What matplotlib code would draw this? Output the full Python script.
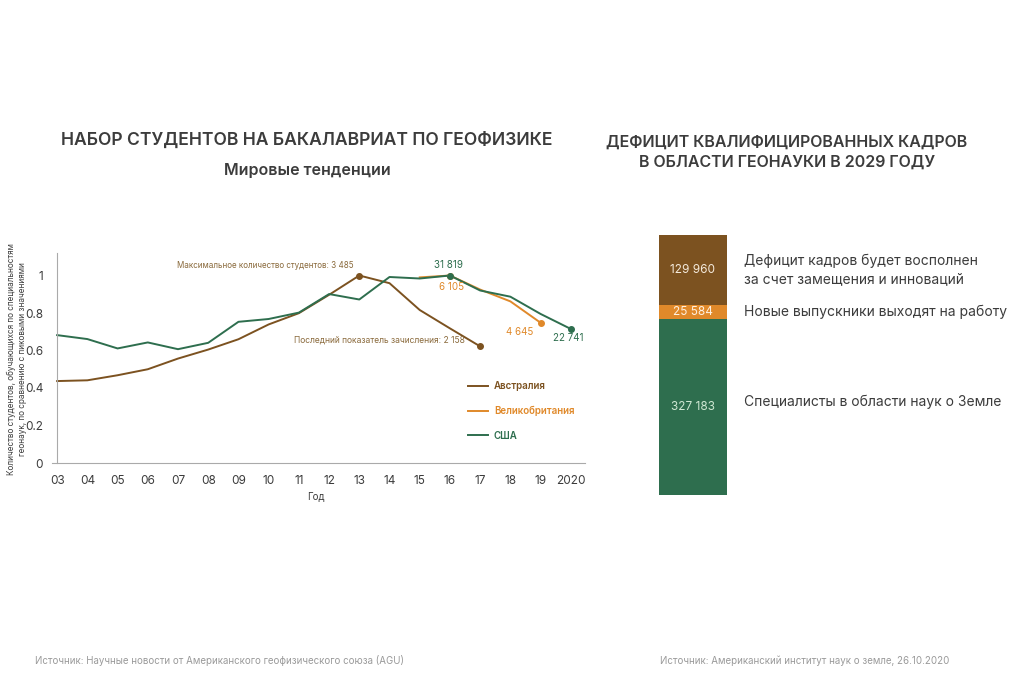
import matplotlib
matplotlib.use("Agg")
import matplotlib.pyplot as plt
import numpy as np

plt.rcParams['font.family'] = ['Inter', 'DejaVu Sans']

# ---- data ----
years = list(range(2003, 2021))
year_labels = ["03", "04", "05", "06", "07", "08", "09", "10", "11", "12",
               "13", "14", "15", "16", "17", "18", "19", "2020"]

aus_years = list(range(2003, 2018))
aus_vals = [0.437, 0.441, 0.468, 0.50, 0.557, 0.605, 0.66, 0.739, 0.799,
            0.897, 1.0, 0.959, 0.816, 0.718, 0.622]

uk_years = [2015, 2016, 2017, 2018, 2019]
uk_vals = [0.99, 1.0, 0.925, 0.862, 0.748]

usa_years = list(range(2003, 2021))
usa_vals = [0.682, 0.661, 0.611, 0.643, 0.607, 0.641, 0.753, 0.768, 0.802,
            0.901, 0.872, 0.992, 0.984, 1.0, 0.92, 0.887, 0.795, 0.715]

series_names = ["Австралия", "Великобритания", "США"]

bar_values = [327183, 25584, 129960]
bar_labels = ["327 183", "25 584", "129 960"]
bar_desc = ["Специалисты в области наук о Земле",
            "Новые выпускники выходят на работу",
            "Дефицит кадров будет восполнен\nза счет замещения и инноваций"]

# ---- colors ----
c_aus = "#7c5220"
c_uk = "#e0892a"
c_usa = "#2e6e4e"
c_text = "#3c3c3c"

W, H = 1024, 683
fig = plt.figure(figsize=(W / 100, H / 100), dpi=100)
fig.patch.set_facecolor("white")


def fx(px):
    return px / W


def fy(py):
    return 1 - py / H


# ---- line chart ----
ax = fig.add_axes([fx(52), fy(463), fx(585) - fx(52), fy(253) - fy(463)])
ax.plot(aus_years, aus_vals, color=c_aus, lw=1.4, label=series_names[0])
ax.plot(uk_years, uk_vals, color=c_uk, lw=1.4, label=series_names[1])
ax.plot(usa_years, usa_vals, color=c_usa, lw=1.4, label=series_names[2])

# markers at highlighted points
ax.plot([aus_years[10], aus_years[-1]], [aus_vals[10], aus_vals[-1]], 'o',
        color=c_aus, ms=4)
ax.plot([uk_years[1], uk_years[-1]], [uk_vals[1], uk_vals[-1]], 'o',
        color=c_uk, ms=4)
ax.plot([usa_years[13], usa_years[-1]], [usa_vals[13], usa_vals[-1]], 'o',
        color=c_usa, ms=4)

ax.set_xlim(2002.83, 2020.47)
ax.set_ylim(0, 1.12)
ax.spines["left"].set_position(("data", 2003))
ax.set_xticks(years)
ax.set_xticklabels(year_labels)
ax.set_yticks([0, 0.2, 0.4, 0.6, 0.8, 1.0])
ax.set_yticklabels(["0", "0.2", "0.4", "0.6", "0.8", "1"])
ax.tick_params(axis='both', length=0, labelsize=8.5, colors=c_text, pad=9)
ax.tick_params(axis='y', pad=10)
for s in ["top", "right"]:
    ax.spines[s].set_visible(False)
for s in ["left", "bottom"]:
    ax.spines[s].set_color("#aaaaaa")
    ax.spines[s].set_linewidth(0.8)
ax.set_xlabel("Год", fontsize=7, color=c_text, labelpad=2)
ax.xaxis.set_label_coords((316 - 52) / (585 - 52), -0.135)

ax.annotate("Максимальное количество студентов: 3 485",
            (aus_years[10], aus_vals[10]), xytext=(-4, 4),
            textcoords="offset points", ha="right", va="bottom",
            fontsize=5.8, color="#8a6a3c")
ax.annotate("Последний показатель зачисления: 2 158",
            (aus_years[-1], aus_vals[-1]), xytext=(-11, 1),
            textcoords="offset points", ha="right", va="bottom",
            fontsize=6.1, color="#8a6a3c")
ax.annotate("31 819", (usa_years[13], usa_vals[13]), xytext=(-1, 4),
            textcoords="offset points", ha="center", va="bottom",
            fontsize=7, color=c_usa)
ax.annotate("6 105", (uk_years[1], uk_vals[1]), xytext=(1, -5),
            textcoords="offset points", ha="center", va="top",
            fontsize=7, color=c_uk)
ax.annotate("4 645", (uk_years[-1], uk_vals[-1]), xytext=(-15, -3),
            textcoords="offset points", ha="center", va="top",
            fontsize=7, color=c_uk)
ax.annotate("22 741", (usa_years[-1], usa_vals[-1]), xytext=(-2, -3),
            textcoords="offset points", ha="center", va="top",
            fontsize=7, color=c_usa)

leg = ax.legend(loc="upper left", bbox_to_anchor=(0.765, 0.43), frameon=False,
                fontsize=7, handlelength=2.0, handletextpad=0.6,
                labelspacing=1.5, labelcolor=[c_aus, c_uk, c_usa])
for t in leg.get_texts():
    t.set_fontweight("semibold")

fig.text(0.007, fy(359),
         "Количество студентов, обучающихся по специальностям\n"
         "геонаук, по сравнению с пиковыми значениями",
         rotation=90, ha="left", va="center", fontsize=5.9, color=c_text,
         multialignment="center")

# ---- titles ----
fig.text(fx(307), fy(140), "НАБОР СТУДЕНТОВ НА БАКАЛАВРИАТ ПО ГЕОФИЗИКЕ",
         ha="center", va="center", fontsize=12.6, fontweight="semibold",
         color=c_text)
fig.text(fx(307), fy(170), "Мировые тенденции", ha="center", va="center",
         fontsize=11.5, fontweight="semibold", color=c_text)
fig.text(fx(787), fy(152), "ДЕФИЦИТ КВАЛИФИЦИРОВАННЫХ КАДРОВ\nВ ОБЛАСТИ ГЕОНАУКИ В 2029 ГОДУ",
         ha="center", va="center", fontsize=11.5, fontweight="semibold",
         color=c_text, linespacing=1.45)

# ---- stacked bar ----
bx = fig.add_axes([fx(659), fy(495), fx(727) - fx(659), fy(235) - fy(495)])
bar_colors = [c_usa, c_uk, c_aus]
label_colors = ["#cfe8d3", "#fff1e0", "#f4eadc"]
bottom = 0
total = sum(bar_values)
for v, col, lab, lc, desc in zip(bar_values, bar_colors, bar_labels,
                                 label_colors, bar_desc):
    bx.bar(0, v, bottom=bottom, width=1.0, color=col, edgecolor="none")
    mid = bottom + v / 2
    bx.text(0, mid, lab, ha="center", va="center", fontsize=8.5, color=lc)
    bottom += v
bx.set_xlim(-0.5, 0.5)
bx.set_ylim(0, total)
bx.axis("off")

desc_y = [402, 312, 270]
for d, yy in zip(bar_desc, desc_y):
    fig.text(fx(744), fy(yy), d, ha="left", va="center", fontsize=10,
             color=c_text, linespacing=1.45)

# ---- sources ----
fig.text(fx(35), fy(661), "Источник: Научные новости от Американского геофизического союза (AGU)",
         ha="left", va="center", fontsize=7, color="#9a9a9a")
fig.text(fx(660), fy(661), "Источник: Американский институт наук о земле, 26.10.2020",
         ha="left", va="center", fontsize=7, color="#9a9a9a")

fig.savefig("out.png", dpi=100, facecolor="white")
